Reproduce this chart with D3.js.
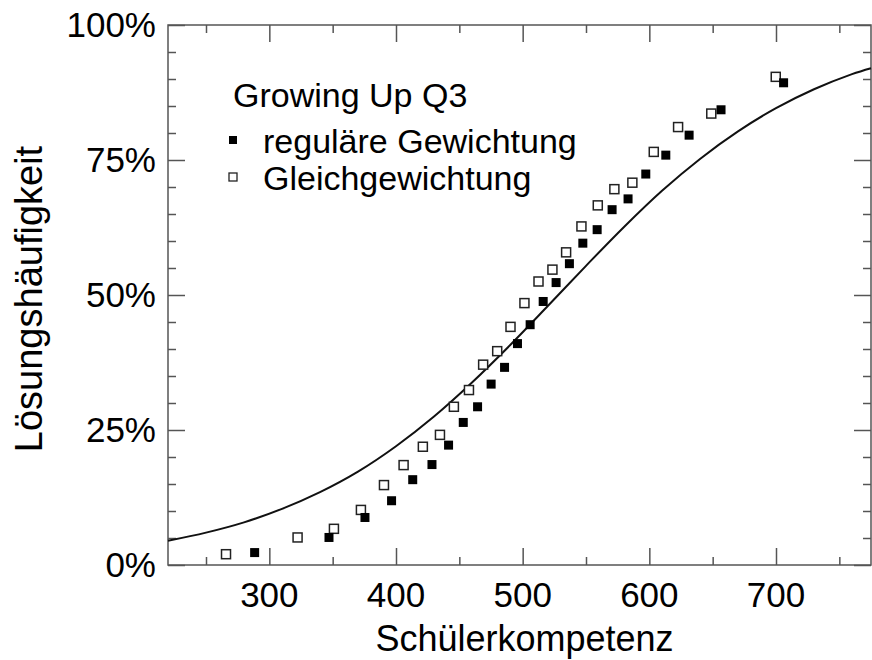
<!DOCTYPE html>
<html>
<head>
<meta charset="utf-8">
<script src="https://cdn.jsdelivr.net/npm/d3@7"></script>
<style>
  html, body { margin: 0; padding: 0; background: #fff; }
  svg { display: block; font-family: "Liberation Sans", Arial, Helvetica, sans-serif; }
</style>
</head>
<body>
<div id="chart"></div>
<script>
"use strict";

// Schülerkompetenz / Lösungshäufigkeit (0..1)
const regularWeighting = [
  [288.4, 0.023], [347.1, 0.051], [375.5, 0.088], [396.5, 0.119], [413.2, 0.158],
  [428.4, 0.186], [441.5, 0.222], [453.1, 0.264], [464.4, 0.293], [475.1, 0.335],
  [485.7, 0.366], [495.9, 0.410], [505.9, 0.445], [516.2, 0.488], [526.4, 0.523],
  [536.9, 0.558], [547.5, 0.596], [558.8, 0.621], [570.6, 0.658], [583.2, 0.678],
  [597.2, 0.724], [613.0, 0.759], [631.4, 0.796], [656.6, 0.843], [706.0, 0.893],
];

const equalWeighting = [
  [265.8, 0.020], [322.3, 0.051], [351.0, 0.067], [372.3, 0.102], [390.5, 0.148],
  [406.0, 0.185], [421.2, 0.219], [434.7, 0.241], [445.7, 0.293], [457.6, 0.324],
  [468.8, 0.371], [479.9, 0.396], [490.4, 0.441], [501.4, 0.485], [512.5, 0.525],
  [523.5, 0.547], [534.3, 0.579], [546.4, 0.627], [559.3, 0.666], [572.4, 0.696],
  [586.6, 0.708], [603.5, 0.765], [622.7, 0.811], [648.9, 0.836], [699.8, 0.904],
];

// item characteristic curve
const modelCurve = [
  [220, 0.045], [250, 0.060], [280, 0.079], [310, 0.104], [340, 0.135],
  [370, 0.173], [400, 0.220], [430, 0.275], [460, 0.338], [490, 0.407],
  [520, 0.480], [550, 0.554], [580, 0.626], [610, 0.693], [640, 0.752],
  [670, 0.803], [700, 0.846], [730, 0.881], [760, 0.909], [775, 0.920],
];

const xMajorTicks = [300, 400, 500, 600, 700];
const xMinorTicks = [250, 350, 450, 550, 650, 750];
const yMajorTicks = [0, 0.25, 0.5, 0.75, 1];
const yMinorTicks = d3.range(0, 21).map((i) => i * 0.05).filter((v) => Math.round(v * 100) % 25 !== 0);

const legendTitle = "Growing Up Q3";
const seriesNames = ["reguläre Gewichtung", "Gleichgewichtung"];
const xTitle = "Schülerkompetenz";
const yTitle = "Lösungshäufigkeit";

const width = 872;
const height = 660;
const plot = { left: 168, top: 25, right: 871, bottom: 565 };

const svg = d3
  .select("#chart")
  .append("svg")
  .attr("width", width)
  .attr("height", height)
  .attr("viewBox", `0 0 ${width} ${height}`);

const x = d3.scaleLinear().domain([220, 775]).range([plot.left, plot.right]);
const y = d3.scaleLinear().domain([0, 1]).range([plot.bottom, plot.top]);

const frameColor = "#555";

// frame
svg
  .append("rect")
  .attr("x", plot.left)
  .attr("y", plot.top)
  .attr("width", plot.right - plot.left)
  .attr("height", plot.bottom - plot.top)
  .attr("fill", "none")
  .attr("stroke", frameColor)
  .attr("stroke-width", 1.5);

// axes with inward ticks on all four sides
function drawAxis(axis, transform) {
  const g = svg.append("g").attr("transform", transform).call(axis);
  g.select(".domain").remove();
  g.selectAll("line").attr("stroke", frameColor).attr("stroke-width", 1.5);
  return g;
}

const majorLen = 17;
const minorLen = 8;

drawAxis(d3.axisBottom(x).tickValues(xMajorTicks).tickSize(-majorLen).tickFormat(""), `translate(0,${plot.bottom})`);
drawAxis(d3.axisBottom(x).tickValues(xMinorTicks).tickSize(-minorLen).tickFormat(""), `translate(0,${plot.bottom})`);
drawAxis(d3.axisTop(x).tickValues(xMajorTicks).tickSize(-majorLen).tickFormat(""), `translate(0,${plot.top})`);
drawAxis(d3.axisTop(x).tickValues(xMinorTicks).tickSize(-minorLen).tickFormat(""), `translate(0,${plot.top})`);
drawAxis(d3.axisLeft(y).tickValues(yMajorTicks).tickSize(-majorLen).tickFormat(""), `translate(${plot.left},0)`);
drawAxis(d3.axisLeft(y).tickValues(yMinorTicks).tickSize(-minorLen).tickFormat(""), `translate(${plot.left},0)`);
drawAxis(d3.axisRight(y).tickValues(yMajorTicks).tickSize(-majorLen).tickFormat(""), `translate(${plot.right},0)`);
drawAxis(d3.axisRight(y).tickValues(yMinorTicks).tickSize(-minorLen).tickFormat(""), `translate(${plot.right},0)`);

// tick labels
svg
  .selectAll("text.x-label")
  .data(xMajorTicks)
  .join("text")
  .attr("class", "x-label")
  .attr("x", (d) => x(d))
  .attr("y", plot.bottom + 42)
  .attr("text-anchor", "middle")
  .attr("font-size", 35)
  .attr("fill", "#000")
  .text((d) => d);

svg
  .selectAll("text.y-label")
  .data(yMajorTicks)
  .join("text")
  .attr("class", "y-label")
  .attr("x", plot.left - 12)
  .attr("y", (d) => y(d) + 12)
  .attr("text-anchor", "end")
  .attr("font-size", 35)
  .attr("fill", "#000")
  .text((d) => d3.format(".0%")(d));

// axis titles
svg
  .append("text")
  .attr("x", (plot.left + plot.right) / 2 + 5)
  .attr("y", 651)
  .attr("text-anchor", "middle")
  .attr("font-size", 36)
  .attr("fill", "#000")
  .text(xTitle);

svg
  .append("text")
  .attr("transform", `translate(42,${(plot.top + plot.bottom) / 2 + 4}) rotate(-90)`)
  .attr("text-anchor", "middle")
  .attr("font-size", 38)
  .attr("fill", "#000")
  .text(yTitle);

// model curve
const line = d3
  .line()
  .x((d) => x(d[0]))
  .y((d) => y(d[1]))
  .curve(d3.curveCatmullRom);

svg
  .append("path")
  .datum(modelCurve)
  .attr("d", line)
  .attr("fill", "none")
  .attr("stroke", "#111")
  .attr("stroke-width", 2);

// data points
const markSize = 9;

svg
  .selectAll("rect.equal")
  .data(equalWeighting)
  .join("rect")
  .attr("class", "equal")
  .attr("x", (d) => x(d[0]) - markSize / 2)
  .attr("y", (d) => y(d[1]) - markSize / 2)
  .attr("width", markSize)
  .attr("height", markSize)
  .attr("fill", "#fff")
  .attr("stroke", "#222")
  .attr("stroke-width", 1.5);

svg
  .selectAll("rect.regular")
  .data(regularWeighting)
  .join("rect")
  .attr("class", "regular")
  .attr("x", (d) => x(d[0]) - markSize / 2)
  .attr("y", (d) => y(d[1]) - markSize / 2)
  .attr("width", markSize)
  .attr("height", markSize)
  .attr("fill", "#000");

// legend
const legend = svg.append("g").attr("transform", "translate(233,0)");

legend
  .append("text")
  .attr("x", 0)
  .attr("y", 107)
  .attr("font-size", 34)
  .attr("fill", "#000")
  .text(legendTitle);

const legendRows = [
  { name: seriesNames[0], filled: true, y: 153 },
  { name: seriesNames[1], filled: false, y: 190 },
];

legendRows.forEach((row) => {
  legend
    .append("rect")
    .attr("x", -4)
    .attr("y", row.y - 17)
    .attr("width", 8)
    .attr("height", 8)
    .attr("fill", row.filled ? "#000" : "#fff")
    .attr("stroke", row.filled ? "none" : "#222")
    .attr("stroke-width", 1.3);

  legend
    .append("text")
    .attr("x", 30)
    .attr("y", row.y)
    .attr("font-size", 34)
    .attr("fill", "#000")
    .text(row.name);
});
</script>
</body>
</html>
